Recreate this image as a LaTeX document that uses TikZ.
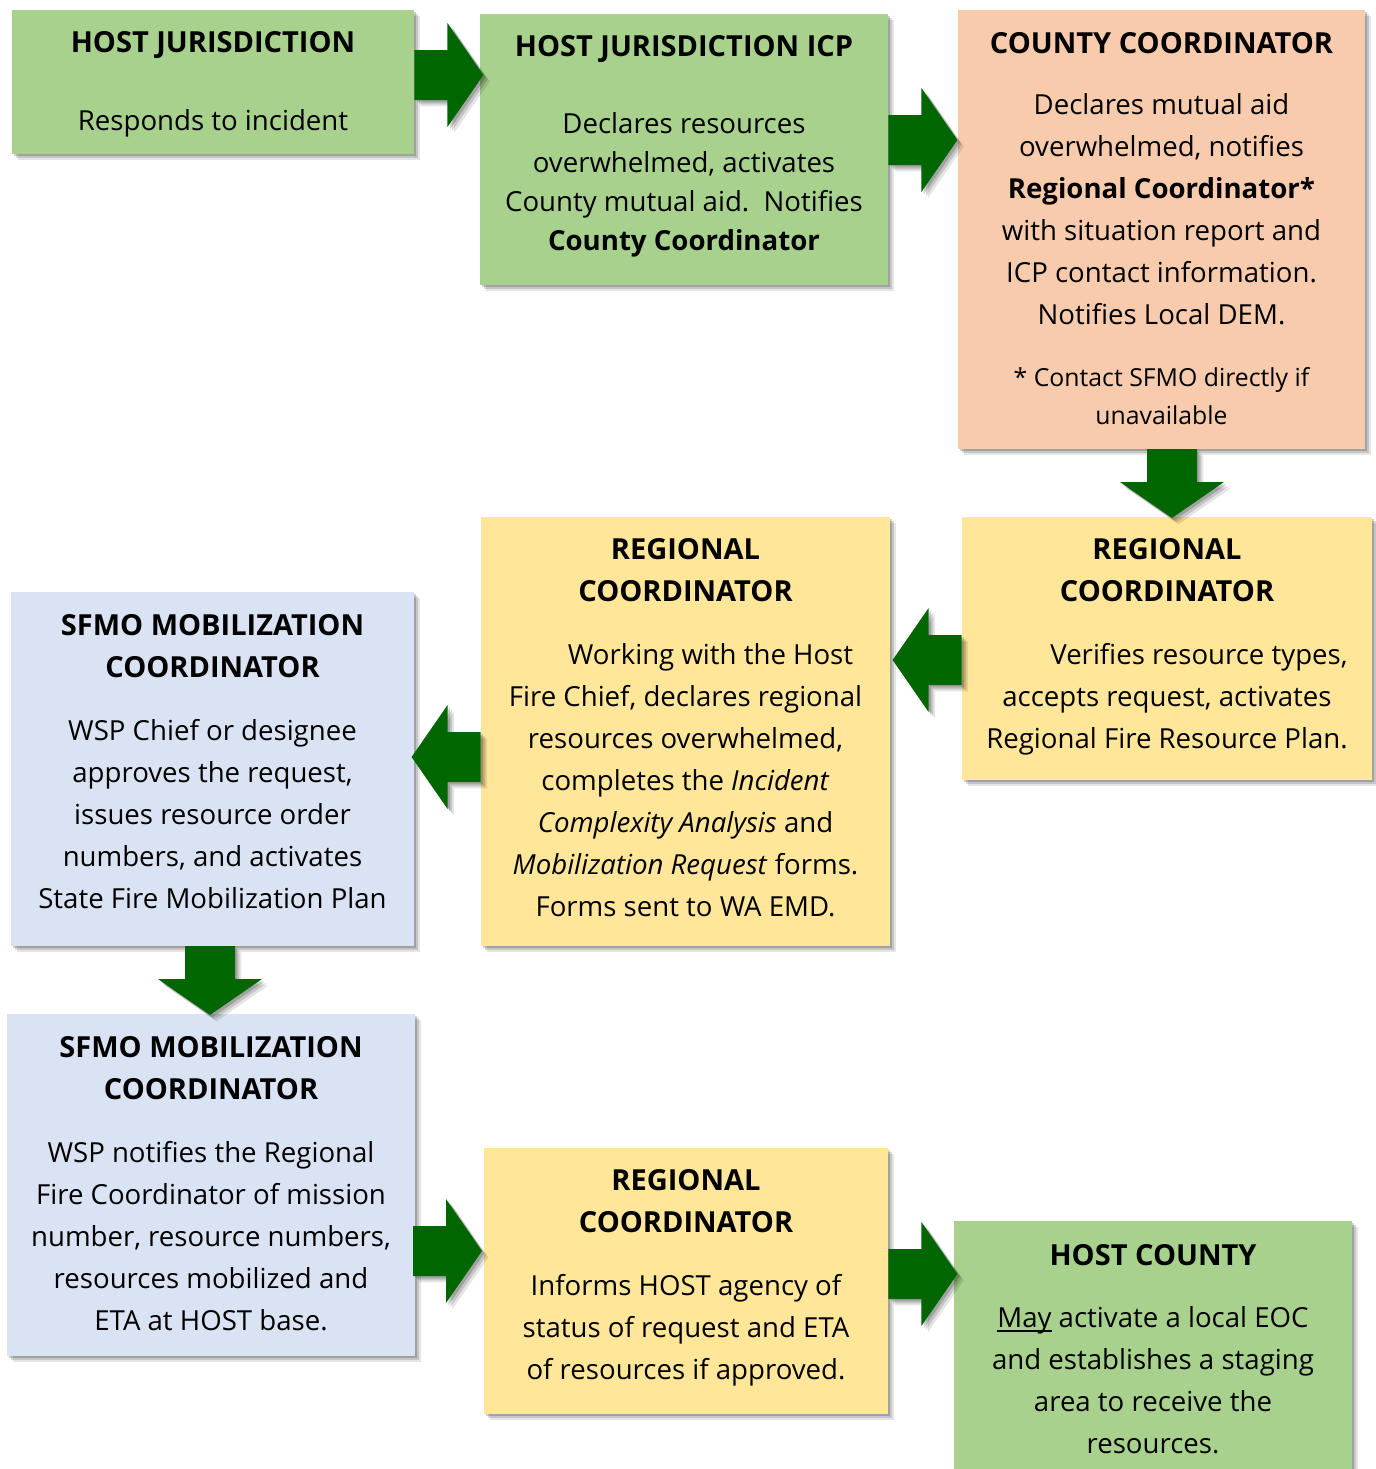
\documentclass[tikz,border=0pt]{standalone}
\usepackage{fontspec}
\setmainfont{Open Sans}
\usetikzlibrary{fit}
\definecolor{boxgreen}{HTML}{A9D18E}
\definecolor{boxsalmon}{HTML}{F8CBAD}
\definecolor{boxyellow}{HTML}{FFE699}
\definecolor{boxblue}{HTML}{DAE3F3}
\definecolor{arrowgreen}{HTML}{006600}
\newcommand\myunderline[1]{\setbox0\hbox{#1}\rlap{\rule[-2.2pt]{\wd0}{0.7pt}}#1}
\tikzset{
  softshadow/.style={
    preaction={fill=black,opacity=0.10,transform canvas={xshift=3.2pt,yshift=-3.2pt}},
    preaction={fill=black,opacity=0.14,transform canvas={xshift=2.2pt,yshift=-2.2pt}},
    preaction={fill=black,opacity=0.18,transform canvas={xshift=1.2pt,yshift=-1.2pt}}},
  box/.style={softshadow, inner sep=0pt, draw=none},
  arrowfill/.style={fill=arrowgreen, softshadow},
  ttl/.style={inner sep=0pt, anchor=north, align=center, font=\fontsize{14.5}{21}\selectfont\bfseries},
  bdy/.style={inner sep=0pt, anchor=north, align=center, font=\fontsize{13.8}{21}\selectfont},
  bdyicp/.style={inner sep=0pt, anchor=north, align=center, font=\fontsize{13.8}{19.5}\selectfont},
  fnote/.style={inner sep=0pt, anchor=north, align=center, font=\fontsize{12.4}{19}\selectfont}
}
\newcommand\blockarrow[2]{\begin{scope}[shift={(#1)},rotate=#2]
  \fill[arrowfill] (0,-25) -- (33,-25) -- (33,-52) -- (69,0) -- (33,52) -- (33,25) -- (0,25) -- cycle;
\end{scope}}
\begin{document}
\begin{tikzpicture}[x=0.5pt,y=-0.5pt]
\useasboundingbox (0,0) rectangle (1376,1469);
\clip (0,0) rectangle (1376,1469);
% boxes
\node[box, fill=boxgreen,  fit={(12,10) (414,154)}] (b1) {};
\node[box, fill=boxgreen,  fit={(480,14) (888,285)}] (b2) {};
\node[box, fill=boxsalmon, fit={(958,10) (1365,449)}] (b3) {};
\node[box, fill=boxyellow, fit={(962,517) (1372,780)}] (b4) {};
\node[box, fill=boxyellow, fit={(481,517) (890,946)}] (b5) {};
\node[box, fill=boxblue,   fit={(11,592) (414,946)}] (b6) {};
\node[box, fill=boxblue,   fit={(7,1014) (415,1356)}] (b7) {};
\node[box, fill=boxyellow, fit={(484,1148) (888,1414)}] (b8) {};
\node[box, fill=boxgreen,  fit={(954,1221) (1352,1490)}] (b9) {};
% arrows
\coordinate (a1) at (b1.east |- 0,75);
\coordinate (a2) at (b2.east |- 0,140);
\coordinate (a3) at (1172,449);
\coordinate (a4) at (b4.west |- 0,660);
\coordinate (a5) at (b5.west |- 0,757);
\coordinate (a6) at (210,946);
\coordinate (a7) at (413,1251);
\coordinate (a8) at (b8.east |- 0,1274);
\blockarrow{a1}{0}
\blockarrow{a2}{0}
\blockarrow{a3}{-90}
\blockarrow{a4}{180}
\blockarrow{a5}{180}
\blockarrow{a6}{-90}
\blockarrow{a7}{0}
\blockarrow{a8}{0}
% texts
\node[ttl] (t1) at (213,22.6) {\strut HOST JURISDICTION};
\node[bdy] (s1) at (213,100.6) {\strut Responds to incident};

\node[ttl] (t2) at (684,26.6) {\strut HOST JURISDICTION ICP};
\node[bdyicp] (s2) at (684,105.7) {\strut Declares resources\\overwhelmed, activates\\County mutual aid.\ \ Notifies\\\textbf{County Coordinator}};

\node[ttl] (t3) at (1161.5,23.6) {\strut COUNTY COORDINATOR};
\node[bdy] (s3) at (1161.5,84.6) {\strut Declares mutual aid\\overwhelmed, notifies\\\textbf{Regional Coordinator*}\\with situation report and\\ICP contact information.\\Notifies Local DEM.};
\node[fnote] (f3) at (1161.5,359.4) {\strut * Contact SFMO directly if\\unavailable};

\node[ttl] (t4) at (1167,529.6) {\strut REGIONAL\\COORDINATOR};
\node[bdy] (s4) at (1167,634.6) {\strut\hspace*{32pt}Verifies resource types,\\accepts request, activates\\Regional Fire Resource Plan.};

\node[ttl] (t5) at (685.5,529.6) {\strut REGIONAL\\COORDINATOR};
\node[bdy] (s5) at (685.5,634.6) {\strut\hspace*{25pt}Working with the Host\\Fire Chief, declares regional\\resources overwhelmed,\\completes the \textit{Incident}\\\textit{Complexity Analysis} and\\\textit{Mobilization Request} forms.\\Forms sent to WA EMD.};

\node[ttl] (t6) at (212.5,605.6) {\strut SFMO MOBILIZATION\\COORDINATOR};
\node[bdy] (s6) at (212.5,710.6) {\strut WSP Chief or designee\\approves the request,\\issues resource order\\numbers, and activates\\State Fire Mobilization Plan};

\node[ttl] (t7) at (211,1027.6) {\strut SFMO MOBILIZATION\\COORDINATOR};
\node[bdy] (s7) at (211,1132.6) {\strut WSP notifies the Regional\\Fire Coordinator of mission\\number, resource numbers,\\resources mobilized and\\ETA at HOST base.};

\node[ttl] (t8) at (686,1160.6) {\strut REGIONAL\\COORDINATOR};
\node[bdy] (s8) at (686,1265.6) {\strut Informs HOST agency of\\status of request and ETA\\of resources if approved.};

\node[ttl] (t9) at (1153,1235.6) {\strut HOST COUNTY};
\node[bdy] (s9) at (1153,1297.6) {\strut\myunderline{May} activate a local EOC\\and establishes a staging\\area to receive the\\resources.};
\end{tikzpicture}
\end{document}
